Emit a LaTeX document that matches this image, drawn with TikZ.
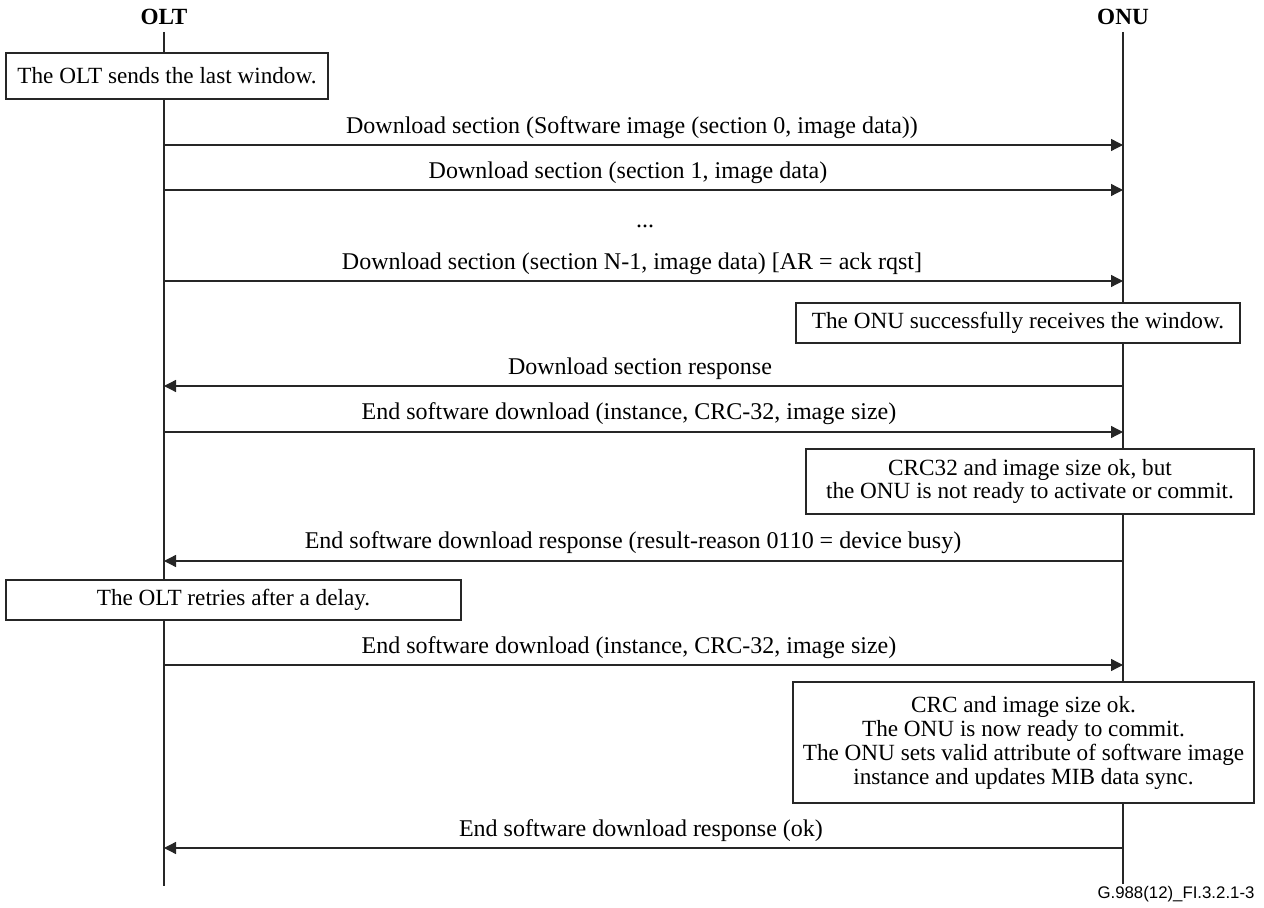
\documentclass[tikz,border=0pt]{standalone}
\usepackage{fontspec}
\setmainfont{Liberation Serif}
\setsansfont{Liberation Sans}
\usetikzlibrary{arrows.meta,positioning}

\tikzset{
  life/.style={line width=0.65pt, black!85},
  msg/.style={line width=0.65pt, black!85, -{Triangle[length=6pt,width=6pt]}},
  note/.style={draw=black!85, line width=0.6pt, fill=white, align=center, inner sep=0pt},
  lbl/.style={inner sep=1pt, font=\fontsize{12}{12}\selectfont},
}

\begin{document}
\begin{tikzpicture}[x=0.5pt, y=-0.5pt, font=\fontsize{11.6}{12}\selectfont]
\useasboundingbox (0,0) rectangle (1264,908);

% Entities and lifelines
\node[font=\fontsize{11.6}{12}\selectfont\bfseries] (olt) at (164,17) {OLT};
\node[font=\fontsize{11.6}{12}\selectfont\bfseries] (onu) at (1123,17) {ONU};
\coordinate (oltend) at (164,886);
\coordinate (onuend) at (1123,884);
\draw[life] (olt) -- (oltend);
\draw[life] (onu) -- (onuend);

% Notes
\node[note, minimum width=161pt, minimum height=23pt] (sendlast) at (167,76) {The OLT sends the last window.};
\node[note, minimum width=222pt, minimum height=20pt] (rxwin) at (1018,323) {The ONU successfully receives the window.};
\node[note, minimum width=224pt, minimum height=32.5pt, font=\fontsize{11.6}{11.5}\selectfont] (notready) at (1030,481.5)
  {CRC32 and image size ok, but\\the ONU is not ready to activate or commit.};
\node[note, minimum width=227.5pt, minimum height=20pt] (retry) at (233.5,600) {The OLT retries after a delay.};
\node[note, minimum width=230.5pt, minimum height=60.5pt] (ready) at (1023.5,742.5)
  {CRC and image size ok.\\The ONU is now ready to commit.\\The ONU sets valid attribute of software image\\instance and updates MIB data sync.};

% Messages
\draw[msg] (olt |- 0,145) -- (onu |- 0,145);
\node[lbl] (m1) at (632,128) {Download section (Software image (section 0, image data))};
\draw[msg] (olt |- 0,190) -- (onu |- 0,190);
\node[lbl] (m2) at (628,173) {Download section (section 1, image data)};
\node[lbl] (dots) at (645,226) {...};
\draw[msg] (olt |- 0,281) -- (onu |- 0,281);
\node[lbl] (m3) at (632,264) {Download section (section N-1, image data) [AR = ack rqst]};
\draw[msg] (onu |- 0,386) -- (olt |- 0,386);
\node[lbl] (m4) at (640,369) {Download section response};
\draw[msg] (olt |- 0,432) -- (onu |- 0,432);
\node[lbl] (m5) at (629,414) {End software download (instance, CRC-32, image size)};
\draw[msg] (onu |- 0,561) -- (olt |- 0,561);
\node[lbl] (m6) at (633,543) {End software download response (result-reason 0110 = device busy)};
\draw[msg] (olt |- 0,665) -- (onu |- 0,665);
\node[lbl] (m7) at (629,648) {End software download (instance, CRC-32, image size)};
\draw[msg] (onu |- 0,848) -- (olt |- 0,848);
\node[lbl] (m8) at (641,831) {End software download response (ok)};

% Figure tag
\node[font=\sffamily\fontsize{8.4}{10}\selectfont] (tag) at (1176,894) {G.988(12)\_FI.3.2.1-3};
\end{tikzpicture}
\end{document}
